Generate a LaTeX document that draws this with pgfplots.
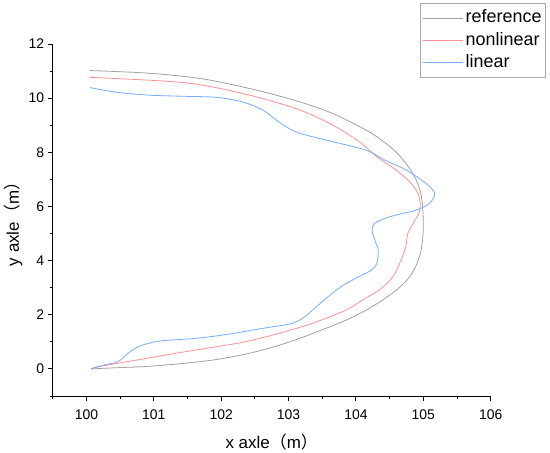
\documentclass[border=0pt]{standalone}
\usepackage{fontspec}
\setmainfont{Liberation Sans}
\newfontfamily\cjk{Noto Sans CJK SC}
\usepackage{pgfplots}
\pgfplotsset{compat=1.18}
\definecolor{refgray}{HTML}{A0A0A0}
\definecolor{nlred}{HTML}{FF9090}
\definecolor{linblue}{HTML}{74ACFF}
\definecolor{legframe}{HTML}{A8A8A8}
\begin{document}
\begin{tikzpicture}
\begin{axis}[
  at={(52.7bp,57bp)}, anchor=south west,
  scale only axis, width=438bp, height=352bp,
  xmin=99.5, xmax=106, ymin=-1, ymax=12,
  axis x line*=bottom, axis y line*=left,
  axis line style={line width=0.9bp},
  xtick={100,...,106}, ytick={0,2,...,12},
  minor xtick={99.5,100.5,...,105.5}, minor ytick={-1,1,...,11},
  tick align=outside, major tick length=5bp, minor tick length=3bp,
  every tick/.style={black, line width=0.9bp},
  tick label style={font=\fontsize{14}{16}\selectfont},
  xticklabel style={yshift=-5bp},
  /pgf/number format/assume math mode=true,
  /pgf/number format/1000 sep={},
  xlabel={x axle{\cjk（}m{\cjk）}},
  ylabel={y axle{\cjk（}m{\cjk）}},
  every axis x label/.style={at={(axis description cs:0.5,-0.13)}, anchor=center, font=\fontsize{17}{20}\selectfont},
  every axis y label/.style={at={(axis description cs:-0.09,0.5)}, rotate=90, anchor=center, font=\fontsize{17}{20}\selectfont},
  legend style={at={(axis description cs:1.126,1.1165)}, anchor=north east,
    draw=legframe, line width=0.8bp, font=\fontsize{18}{21}\selectfont,
    inner xsep=2bp, inner ysep=3.5bp, row sep=0pt,
    nodes={inner sep=2bp, text height=14bp, text depth=4.3bp}},
  legend cell align=left,
  legend image code/.code={\draw[#1, line width=1bp] (0bp,0bp) -- (40bp,0bp);},
  clip=false,
]
\addplot[refgray, line width=0.8bp, smooth, tension=0.5] coordinates {
(100.07,0.00) (100.40,0.04) (100.89,0.09) (101.38,0.19) (101.88,0.33)
(102.37,0.55) (102.87,0.88) (103.36,1.31) (103.86,1.81) (104.15,2.17)
(104.40,2.55) (104.62,2.95) (104.78,3.35) (104.89,3.80) (104.96,4.30)
(104.99,4.80) (105.00,5.30) (104.99,6.00) (104.96,6.50) (104.89,7.00)
(104.77,7.50) (104.60,8.00) (104.38,8.45) (104.15,8.82) (103.66,9.43)
(103.17,9.86) (102.52,10.30) (101.73,10.71) (100.94,10.92) (100.05,11.02)
};
\addlegendentry{reference}
\addplot[nlred, line width=0.8bp, smooth, tension=0.5] coordinates {
(100.10,0.05) (100.40,0.18) (100.89,0.39) (101.38,0.60) (101.88,0.80)
(102.37,1.01) (102.87,1.32) (103.36,1.69) (103.86,2.18) (104.10,2.55)
(104.35,2.92) (104.55,3.41) (104.67,4.02) (104.74,4.51) (104.77,5.00)
(104.85,5.38) (104.935,5.75) (104.955,6.11) (104.92,6.48) (104.82,6.85)
(104.60,7.34) (104.33,7.80) (104.05,8.39) (103.66,9.00) (103.17,9.56)
(102.52,10.05) (101.73,10.48) (101.16,10.63) (100.05,10.77)
};
\addlegendentry{nonlinear}
\addplot[linblue, line width=0.8bp, smooth, tension=0.5] coordinates {
(100.07,0.00) (100.27,0.15) (100.47,0.27) (100.62,0.58) (100.77,0.82)
(100.96,0.97) (101.16,1.05) (101.63,1.13) (102.13,1.29) (102.62,1.50)
(103.02,1.66) (103.21,1.87) (103.36,2.18) (103.56,2.61) (103.78,3.04)
(104.00,3.35) (104.23,3.65) (104.31,3.90) (104.33,4.39) (104.28,4.76)
(104.24,5.13) (104.28,5.38) (104.50,5.62) (104.90,5.87) (105.09,6.11)
(105.17,6.48) (105.04,6.85) (104.75,7.34) (104.43,7.71) (104.15,8.08)
(103.66,8.39) (103.21,8.67) (103.02,8.86) (102.82,9.19) (102.62,9.56)
(102.32,9.86) (101.93,10.03) (101.43,10.07) (100.94,10.11) (100.47,10.21)
(100.05,10.39)
};
\addlegendentry{linear}
\end{axis}
\pgfresetboundingbox
\useasboundingbox (0,0) rectangle (550bp,453bp);
\end{tikzpicture}
\end{document}
